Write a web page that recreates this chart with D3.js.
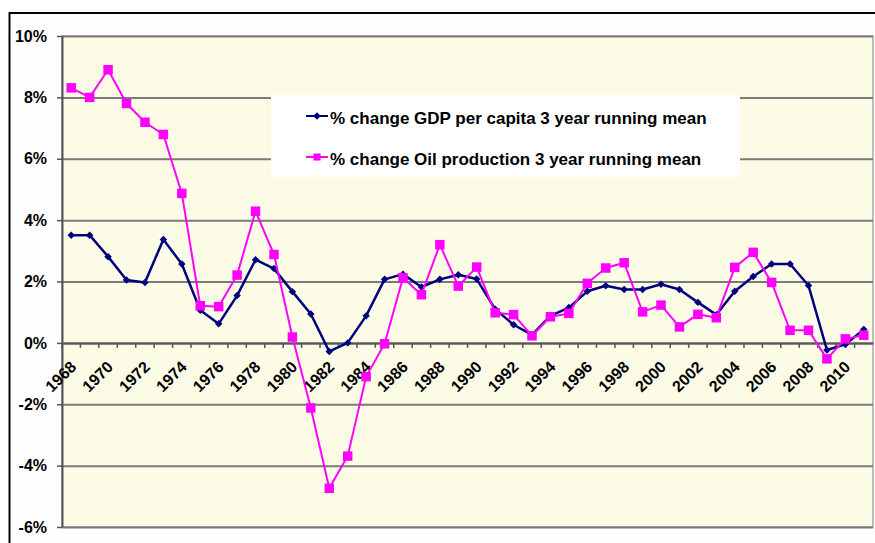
<!DOCTYPE html>
<html>
<head>
<meta charset="utf-8">
<script src="https://cdn.jsdelivr.net/npm/d3@7"></script>
<style>
  body { margin: 0; background: #fff; }
  svg { display: block; }
  text { font-family: Arial, "Liberation Sans", sans-serif; font-weight: bold; fill: #000; }
</style>
</head>
<body>
<svg width="875" height="543"></svg>
<script>
// data (values in %)
const years = [1968, 1969, 1970, 1971, 1972, 1973, 1974, 1975, 1976, 1977, 1978, 1979,
  1980, 1981, 1982, 1983, 1984, 1985, 1986, 1987, 1988, 1989, 1990, 1991, 1992, 1993,
  1994, 1995, 1996, 1997, 1998, 1999, 2000, 2001, 2002, 2003, 2004, 2005, 2006, 2007,
  2008, 2009, 2010, 2011];
const gdp = [3.51, 3.51, 2.81, 2.05, 1.97, 3.37, 2.57, 1.06, 0.62, 1.54, 2.71, 2.42,
  1.67, 0.94, -0.28, 0.0, 0.88, 2.07, 2.24, 1.82, 2.07, 2.22, 2.08, 1.10, 0.59, 0.26,
  0.88, 1.15, 1.68, 1.86, 1.74, 1.74, 1.91, 1.74, 1.32, 0.92, 1.68, 2.16, 2.57, 2.57,
  1.87, -0.23, -0.05, 0.44];
const oil = [8.31, 8.0, 8.9, 7.8, 7.19, 6.79, 4.87, 1.21, 1.18, 2.21, 4.29, 2.88,
  0.19, -2.12, -4.74, -3.69, -1.10, -0.03, 2.12, 1.57, 3.20, 1.85, 2.47, 0.98, 0.92, 0.23,
  0.85, 0.96, 1.94, 2.44, 2.61, 1.01, 1.23, 0.52, 0.93, 0.82, 2.46, 2.95, 1.97, 0.41,
  0.41, -0.52, 0.13, 0.25];
const yTicks = [-6, -4, -2, 0, 2, 4, 6, 8, 10];
const seriesNames = ["% change GDP per capita 3 year running mean",
  "% change Oil production 3 year running mean"];

const gdpColor = "#000080";
const oilColor = "#ff00ff";

let svg = d3.select("svg");

// outer chart frame
svg.append("rect")
    .attr("x", 9.5).attr("y", 13)
    .attr("width", 900).attr("height", 600)
    .attr("fill", "#fefefe")
    .attr("stroke", "#000")
    .attr("stroke-width", 2);

const plot = {left: 62, top: 36, right: 873, bottom: 527};
const width = plot.right - plot.left;
const height = plot.bottom - plot.top;

let g = svg.append("g").attr("transform", "translate(" + plot.left + "," + plot.top + ")");

let x = d3.scaleBand().domain(years).range([0, width]);
let y = d3.scaleLinear().domain([-6, 10]).range([height, 0]);
const bw = x.bandwidth();

// plot background
g.append("rect")
    .attr("width", width).attr("height", height)
    .attr("fill", "#fcfce6")
    .attr("stroke", "#a8a8a8")
    .attr("stroke-width", 1.5);

// gridlines
g.append("g")
    .attr("class", "grid")
    .call(d3.axisLeft(y).tickValues(yTicks).tickSize(-width).tickFormat(""))
    .call(a => a.select(".domain").remove())
    .call(a => a.selectAll("line").attr("stroke", "#7a7a7a").attr("stroke-width", 2));

// y axis
g.append("g")
    .call(d3.axisLeft(y).tickValues(yTicks).tickSize(5).tickSizeOuter(0).tickFormat(d => d + "%"))
    .call(a => a.select(".domain").attr("stroke", "#555").attr("stroke-width", 2))
    .call(a => a.selectAll("line").attr("stroke", "#555").attr("stroke-width", 1.5))
    .call(a => a.selectAll("text").attr("x", -15).style("font-size", "16px"));

// x axis on the zero line
g.append("g")
    .attr("transform", "translate(0," + y(0) + ")")
    .call(d3.axisBottom(x).tickSize(5).tickSizeOuter(0).tickFormat(d => d % 2 === 0 ? d : ""))
    .call(a => a.select(".domain").attr("stroke", "#555").attr("stroke-width", 2))
    .call(a => a.selectAll("line").attr("x1", -bw / 2).attr("x2", -bw / 2)
        .attr("stroke", "#555").attr("stroke-width", 1.5))
    .call(a => a.selectAll("text")
        .attr("x", 0).attr("y", 0).attr("dy", 0)
        .attr("text-anchor", "end")
        .attr("transform", "translate(6,25) rotate(-45)")
        .style("font-size", "16px"));

// legend box
const legend = svg.append("g");
legend.append("rect")
    .attr("x", 271).attr("y", 95)
    .attr("width", 469).attr("height", 82)
    .attr("fill", "#fff");

const cx = (d, i) => x(years[i]) + bw / 2;
const line = d3.line().x(cx).y(d => y(d));

function drawSeries(values, color, lw, symbol, size, rot) {
    g.append("path")
        .datum(values)
        .attr("fill", "none")
        .attr("stroke", color)
        .attr("stroke-width", lw)
        .attr("stroke-linejoin", "round")
        .attr("d", line);
    g.selectAll(null)
        .data(values)
        .enter().append("path")
        .attr("d", d3.symbol(symbol, size))
        .attr("fill", color)
        .attr("transform", (d, i) => "translate(" + cx(d, i) + "," + y(d) + ") rotate(" + rot + ")");
}

drawSeries(gdp, gdpColor, 2.5, d3.symbolSquare, 28, 45);
drawSeries(oil, oilColor, 2, d3.symbolSquare, 90, 0);

// legend entries
const legendRows = [
    {name: seriesNames[0], color: gdpColor, size: 28, rot: 45, ly: 116, ty: 124},
    {name: seriesNames[1], color: oilColor, size: 50, rot: 0, ly: 157, ty: 165}
];
legendRows.forEach(r => {
    legend.append("line")
        .attr("x1", 306).attr("x2", 328)
        .attr("y1", r.ly).attr("y2", r.ly)
        .attr("stroke", r.color).attr("stroke-width", 2);
    legend.append("path")
        .attr("d", d3.symbol(d3.symbolSquare, r.size))
        .attr("fill", r.color)
        .attr("transform", "translate(317," + r.ly + ") rotate(" + r.rot + ")");
    legend.append("text")
        .attr("x", 330).attr("y", r.ty)
        .style("font-size", "17px")
        .text(r.name);
});
</script>
</body>
</html>
